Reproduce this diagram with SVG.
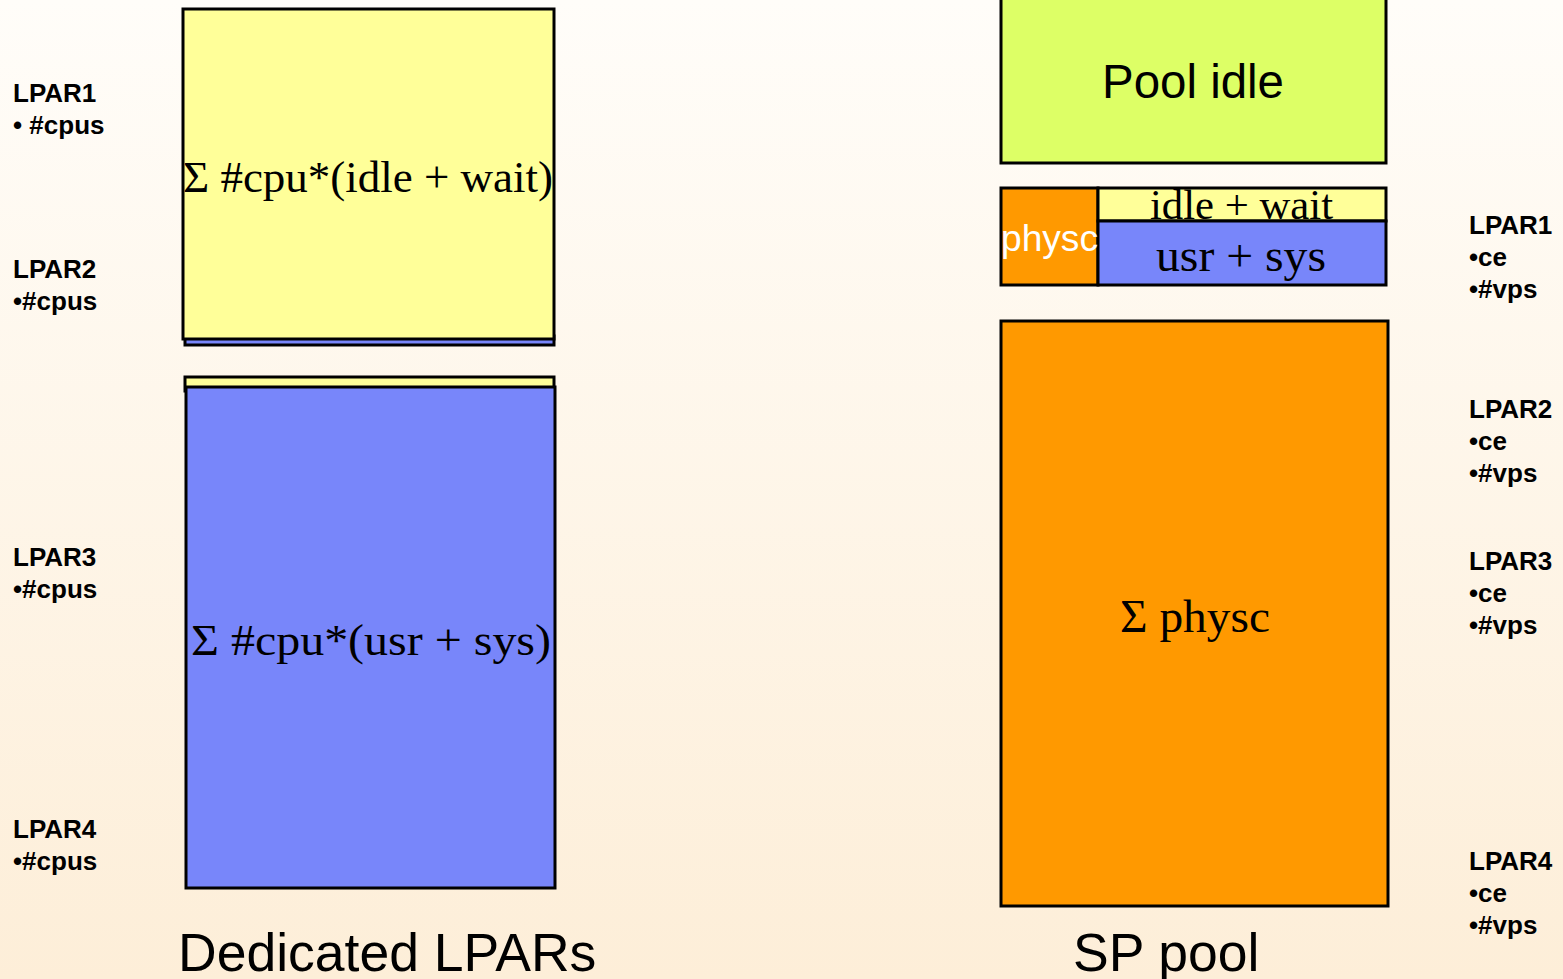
<svg xmlns="http://www.w3.org/2000/svg" width="1563" height="979" viewBox="0 0 1563 979">
<defs>
<linearGradient id="bg" x1="0" y1="0" x2="0" y2="1">
<stop offset="0" stop-color="#fffdf9"/>
<stop offset="1" stop-color="#fdeed8"/>
</linearGradient>
</defs>
<style>
.box{stroke:#000;stroke-width:3}
.y{fill:#ffff99}.b{fill:#7886fa}.o{fill:#ff9900}.g{fill:#ddff66}
.lab{font-family:"Liberation Sans",Arial,sans-serif;font-weight:bold;font-size:26px;fill:#000}
.ser{font-family:"Liberation Serif","Times New Roman",serif;fill:#000}
.sans{font-family:"Liberation Sans",Arial,sans-serif;fill:#000}
</style>
<rect width="1563" height="979" fill="url(#bg)"/>
<g id="left-top">
<rect class="box b" x="185" y="336" width="369" height="9"/>
<rect class="box y" x="183" y="9" width="371" height="330"/>
<text class="ser" x="183" y="192" font-size="44" textLength="370" lengthAdjust="spacingAndGlyphs">Σ #cpu*(idle + wait)</text>
</g>
<g id="left-bottom">
<rect class="box y" x="185" y="377" width="369" height="14"/>
<rect class="box b" x="186" y="387" width="369" height="501"/>
<text class="ser" x="191" y="655" font-size="45" textLength="360" lengthAdjust="spacingAndGlyphs">Σ #cpu*(usr + sys)</text>
</g>
<g id="pool-idle">
<rect class="box g" x="1001" y="-3" width="385" height="166"/>
<text class="sans" x="1102" y="98" font-size="48" textLength="182" lengthAdjust="spacingAndGlyphs">Pool idle</text>
</g>
<g id="lpar1-sp">
<rect class="box o" x="1001" y="188" width="97" height="97"/>
<rect class="box y" x="1098" y="188" width="288" height="33"/>
<rect class="box b" x="1098" y="221" width="288" height="64"/>
<text class="sans" x="1001" y="251" font-size="37" style="fill:#fff" textLength="97" lengthAdjust="spacingAndGlyphs">physc</text>
<text class="ser" x="1150" y="219" font-size="42" textLength="183" lengthAdjust="spacingAndGlyphs">idle + wait</text>
<text class="ser" x="1156" y="271" font-size="46" textLength="170" lengthAdjust="spacingAndGlyphs">usr + sys</text>
</g>
<g id="sp-pool">
<rect class="box o" x="1001" y="321" width="387" height="585"/>
<text class="ser" x="1120" y="632" font-size="47" textLength="150" lengthAdjust="spacingAndGlyphs">Σ physc</text>
</g>
<g id="labels-left">
<text class="lab" x="13" y="102">LPAR1</text>
<text class="lab" x="13" y="134">• #cpus</text>
<text class="lab" x="13" y="278">LPAR2</text>
<text class="lab" x="13" y="310">•#cpus</text>
<text class="lab" x="13" y="566">LPAR3</text>
<text class="lab" x="13" y="598">•#cpus</text>
<text class="lab" x="13" y="838">LPAR4</text>
<text class="lab" x="13" y="870">•#cpus</text>
</g>
<g id="labels-right">
<text class="lab" x="1469" y="234">LPAR1</text>
<text class="lab" x="1469" y="266">•ce</text>
<text class="lab" x="1469" y="298">•#vps</text>
<text class="lab" x="1469" y="418">LPAR2</text>
<text class="lab" x="1469" y="450">•ce</text>
<text class="lab" x="1469" y="482">•#vps</text>
<text class="lab" x="1469" y="570">LPAR3</text>
<text class="lab" x="1469" y="602">•ce</text>
<text class="lab" x="1469" y="634">•#vps</text>
<text class="lab" x="1469" y="870">LPAR4</text>
<text class="lab" x="1469" y="902">•ce</text>
<text class="lab" x="1469" y="934">•#vps</text>
</g>
<g id="titles">
<text class="sans" x="178" y="971" font-size="53.5">Dedicated LPARs</text>
<text class="sans" x="1073" y="971" font-size="53.5">SP pool</text>
</g>
<g id="connectors"></g>
</svg>
